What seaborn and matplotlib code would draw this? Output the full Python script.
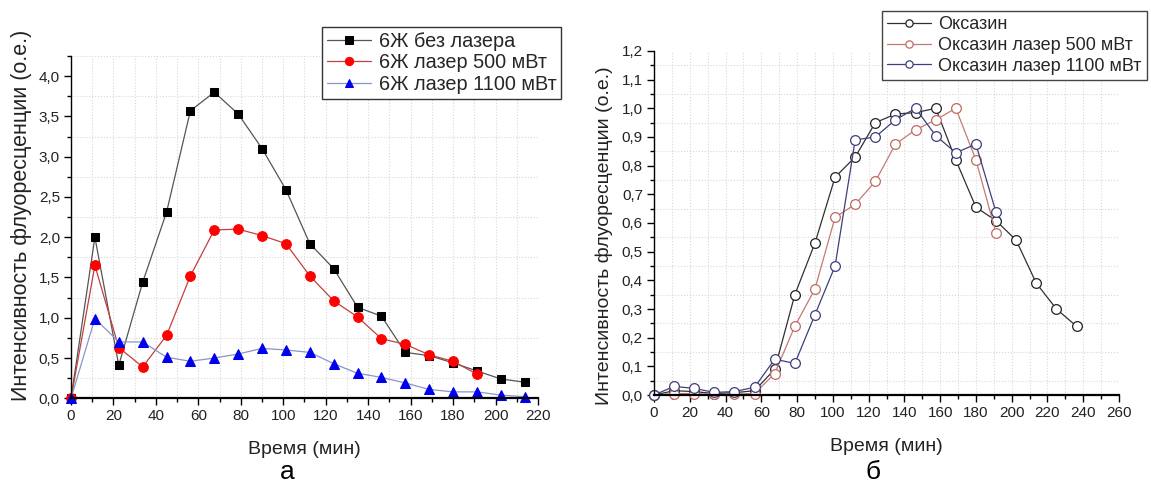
import matplotlib
matplotlib.use("Agg")
import matplotlib.pyplot as plt
from matplotlib.ticker import MultipleLocator, FormatStrFormatter, FuncFormatter
import seaborn as sns
import pandas as pd

# ---------------- data: panel "а" ----------------
time_a = [0, 11.25, 22.5, 33.75, 45, 56.25, 67.5, 78.75, 90, 101.25, 112.5,
          123.75, 135, 146.25, 157.5, 168.75, 180, 191.25, 202.5, 213.75]
no_laser = [0, 2.00, 0.41, 1.44, 2.31, 3.57, 3.80, 3.53, 3.10, 2.59, 1.92,
            1.61, 1.13, 1.02, 0.57, 0.53, 0.44, 0.34, 0.24, 0.20]
laser500 = [0, 1.65, 0.63, 0.39, 0.78, 1.52, 2.09, 2.10, 2.02, 1.92, 1.52,
            1.21, 1.01, 0.74, 0.67, 0.54, 0.46, 0.30]
laser1100 = [0, 0.99, 0.70, 0.70, 0.51, 0.46, 0.50, 0.55, 0.62, 0.60, 0.57,
             0.43, 0.31, 0.26, 0.19, 0.11, 0.08, 0.08, 0.04, 0.02]
labels_a = ["6Ж без лазера", "6Ж лазер 500 мВт", "6Ж лазер 1100 мВт"]

# ---------------- data: panel "б" ----------------
time_b = [0, 11.25, 22.5, 33.75, 45, 56.25, 67.5, 78.75, 90, 101.25, 112.5,
          123.75, 135, 146.25, 157.5, 168.75, 180, 191.25, 202.5, 213.75,
          225, 236.25]
oxa = [0, 0.015, 0.012, 0.005, 0.008, 0.015, 0.09, 0.35, 0.53, 0.76, 0.83,
       0.95, 0.98, 0.985, 1.0, 0.82, 0.655, 0.608, 0.54, 0.39, 0.30, 0.24]
oxa500 = [0, 0.005, 0.005, 0.002, 0.003, 0.005, 0.075, 0.24, 0.37, 0.62, 0.665,
          0.745, 0.875, 0.925, 0.96, 1.0, 0.82, 0.565]
oxa1100 = [0, 0.03, 0.023, 0.009, 0.012, 0.027, 0.125, 0.11, 0.28, 0.45, 0.89,
           0.90, 0.96, 1.0, 0.905, 0.845, 0.875, 0.637]
labels_b = ["Оксазин", "Оксазин лазер 500 мВт", "Оксазин лазер 1100 мВт"]

xlabel = "Время (мин)"
ylabel = "Интенсивность флуоресценции (о.е.)"
panel_labels = ["а", "б"]

sns.set_style("ticks")
plt.rcParams['font.family'] = ['Liberation Sans', 'DejaVu Sans']
plt.rcParams['axes.unicode_minus'] = False

fig = plt.figure(figsize=(11.51, 4.87), dpi=100)
axA = fig.add_axes([0.0617, 0.1821, 0.4057, 0.703])
axB = fig.add_axes([0.5682, 0.1889, 0.4040, 0.7064])

comma = lambda fmt: FuncFormatter(lambda v, p: (fmt % v).replace('.', ','))

# ---- panel а ----
dfa = [
    (pd.DataFrame({"t": time_a[:len(no_laser)], "v": no_laser}), labels_a[0],
     dict(color="#555555", marker="s", markerfacecolor="black", markeredgecolor="black",
          markersize=6.0, linewidth=0.9)),
    (pd.DataFrame({"t": time_a[:len(laser500)], "v": laser500}), labels_a[1],
     dict(color="#c04040", marker="o", markerfacecolor="#ff0000", markeredgecolor="#ff0000",
          markersize=7.0, linewidth=0.9)),
    (pd.DataFrame({"t": time_a[:len(laser1100)], "v": laser1100}), labels_a[2],
     dict(color="#8a94c8", marker="^", markerfacecolor="#0000ee", markeredgecolor="#0000ee",
          markersize=7.0, linewidth=0.9)),
]
for df, lab, kw in dfa:
    sns.lineplot(data=df, x="t", y="v", ax=axA, label=lab, clip_on=False, **kw)

axA.set_xlim(0, 220)
axA.set_ylim(0, 4.25)
axA.xaxis.set_major_locator(MultipleLocator(20))
axA.xaxis.set_minor_locator(MultipleLocator(10))
axA.yaxis.set_major_locator(MultipleLocator(0.5))
axA.yaxis.set_minor_locator(MultipleLocator(0.25))
axA.yaxis.set_major_formatter(comma("%.1f"))
axA.xaxis.set_major_formatter(FormatStrFormatter("%d"))

# ---- panel б ----
dfb = [
    (pd.DataFrame({"t": time_b[:len(oxa)], "v": oxa}), labels_b[0],
     dict(color="#303030", markeredgecolor="#222222")),
    (pd.DataFrame({"t": time_b[:len(oxa500)], "v": oxa500}), labels_b[1],
     dict(color="#c47a72", markeredgecolor="#c06a62")),
    (pd.DataFrame({"t": time_b[:len(oxa1100)], "v": oxa1100}), labels_b[2],
     dict(color="#3e3e7e", markeredgecolor="#3e3e7e")),
]
for df, lab, kw in dfb:
    sns.lineplot(data=df, x="t", y="v", ax=axB, label=lab, marker="o",
                 markerfacecolor="white", markersize=7, markeredgewidth=0.9,
                 linewidth=0.9, clip_on=False, **kw)

axB.set_xlim(0, 260)
axB.set_ylim(0, 1.2)
axB.xaxis.set_major_locator(MultipleLocator(20))
axB.xaxis.set_minor_locator(MultipleLocator(10))
axB.yaxis.set_major_locator(MultipleLocator(0.1))
axB.yaxis.set_minor_locator(MultipleLocator(0.05))
axB.yaxis.set_major_formatter(comma("%.1f"))
axB.xaxis.set_major_formatter(FormatStrFormatter("%d"))

for ax, ylc, yfs, ylx in ((axA, 0.535, 15.5, -0.0835), (axB, 0.462, 14.0, -0.088)):
    sns.despine(ax=ax)
    ax.spines['left'].set_linewidth(1.0)
    ax.spines['bottom'].set_linewidth(1.6)
    ax.spines['left'].set_color('black')
    ax.spines['bottom'].set_color('black')
    ax.tick_params(which='major', direction='out', length=5, width=1, labelsize=11,
                   colors='black', labelcolor='#222222', pad=3)
    ax.tick_params(which='minor', direction='out', length=3, width=1, colors='black')
    ax.xaxis.grid(True, which='both', color='#d8d8d8', linestyle=':', linewidth=0.8)
    ax.yaxis.grid(True, which='minor', color='#d8d8d8', linestyle=':', linewidth=0.8)
    ax.yaxis.grid(False, which='major')
    ax.set_axisbelow(True)
    ax.set_xlabel(xlabel, fontsize=14, color='#222222')
    ax.set_ylabel(ylabel, fontsize=yfs, color='#222222')
    ax.xaxis.set_label_coords(0.5, -0.125)
    ax.yaxis.set_label_coords(ylx, ylc)

legA = axA.legend(loc='upper left', bbox_to_anchor=(0.2798, 0.9446),
                  bbox_transform=fig.transFigure, fontsize=14.3, frameon=True,
                  fancybox=False, framealpha=1, edgecolor='#333333',
                  handlelength=2.2, handletextpad=0.4, borderpad=0.25,
                  labelspacing=0.12, markerscale=0.85, borderaxespad=0)
legA.get_frame().set_linewidth(1.0)
legB = axB.legend(loc='upper left', bbox_to_anchor=(0.7663, 0.9774),
                  bbox_transform=fig.transFigure, fontsize=13, frameon=True,
                  fancybox=False, framealpha=1, edgecolor='#444444',
                  handlelength=2.4, handletextpad=0.4, borderpad=0.3,
                  labelspacing=0.2, markerscale=0.75, borderaxespad=0)
legB.get_frame().set_linewidth(1.0)

fig.text(287 / 1151, 1 - 479 / 487, panel_labels[0], fontsize=19, ha='center', va='baseline', color='black')
fig.text(873 / 1151, 1 - 479 / 487, panel_labels[1], fontsize=19, ha='center', va='baseline', color='black')

fig.savefig("out.png", dpi=100, facecolor='white')
